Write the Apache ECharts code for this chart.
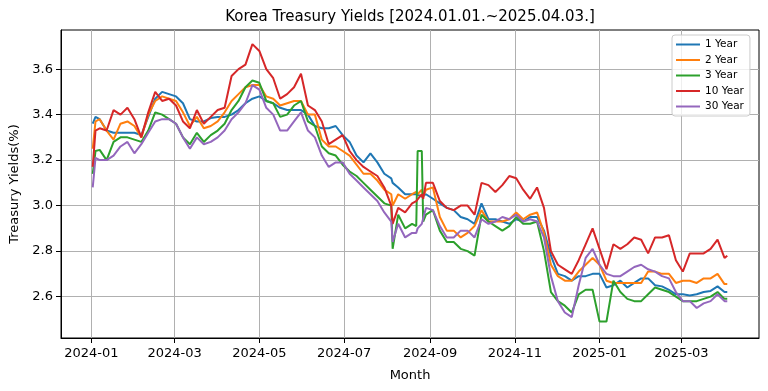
<!DOCTYPE html>
<html><head><meta charset="utf-8">
<script src="https://cdn.jsdelivr.net/npm/echarts@6/dist/echarts.min.js"></script>
<style>html,body{margin:0;padding:0;background:#fff}#c{width:768px;height:391px}</style>
</head><body><div id="c"></div>
<script>
const dates = [
'2024-01-02','2024-01-04','2024-01-07','2024-01-12','2024-01-17','2024-01-22','2024-01-27','2024-02-01','2024-02-06','2024-02-11',
'2024-02-16','2024-02-21','2024-02-26','2024-03-02','2024-03-07','2024-03-12','2024-03-17','2024-03-22','2024-03-27','2024-04-01',
'2024-04-06','2024-04-11','2024-04-16','2024-04-21','2024-04-26','2024-05-01','2024-05-06','2024-05-11','2024-05-16','2024-05-21',
'2024-05-26','2024-05-31','2024-06-05','2024-06-10','2024-06-15','2024-06-20','2024-06-25','2024-06-30','2024-07-05','2024-07-10',
'2024-07-15','2024-07-20','2024-07-25','2024-07-30','2024-08-04','2024-08-05','2024-08-09','2024-08-14','2024-08-19','2024-08-22',
'2024-08-23','2024-08-26','2024-08-27','2024-08-29','2024-09-03','2024-09-08','2024-09-13','2024-09-18','2024-09-23','2024-09-28',
'2024-10-03','2024-10-08','2024-10-13','2024-10-18','2024-10-23','2024-10-28','2024-11-02','2024-11-07','2024-11-12','2024-11-17',
'2024-11-22','2024-11-27','2024-12-02','2024-12-07','2024-12-12','2024-12-17','2024-12-22','2024-12-27','2025-01-01','2025-01-06',
'2025-01-11','2025-01-16','2025-01-21','2025-01-26','2025-01-31','2025-02-05','2025-02-10','2025-02-15','2025-02-20','2025-02-25',
'2025-03-02','2025-03-07','2025-03-12','2025-03-17','2025-03-22','2025-03-27','2025-04-01','2025-04-03'];

const y1 = [
3.36,3.39,3.38,3.33,3.32,3.32,3.32,3.32,3.31,3.39,
3.47,3.50,3.49,3.48,3.45,3.38,3.37,3.37,3.385,3.39,
3.39,3.40,3.42,3.45,3.47,3.48,3.46,3.45,3.43,3.42,
3.42,3.42,3.40,3.35,3.34,3.34,3.35,3.31,3.28,3.22,
3.19,3.23,3.19,3.14,3.12,3.10,3.08,3.05,3.05,3.05,
3.05,3.04,3.04,3.05,3.03,3.01,2.99,2.98,2.95,2.94,
2.92,3.01,2.94,2.94,2.93,2.92,2.94,2.93,2.95,2.95,
2.89,2.78,2.70,2.69,2.67,2.69,2.69,2.70,2.70,2.64,
2.65,2.67,2.64,2.66,2.68,2.68,2.65,2.645,2.63,2.61,
2.61,2.605,2.61,2.62,2.625,2.645,2.62,2.62];

const y2 = [
3.25,3.37,3.38,3.33,3.29,3.36,3.37,3.35,3.30,3.40,
3.46,3.48,3.47,3.46,3.41,3.35,3.39,3.34,3.35,3.37,
3.41,3.46,3.49,3.52,3.53,3.53,3.48,3.47,3.44,3.45,
3.46,3.46,3.40,3.40,3.29,3.26,3.26,3.24,3.22,3.18,
3.14,3.14,3.11,3.07,3.05,3.00,3.05,3.03,3.05,3.06,
3.05,3.07,3.04,3.07,3.08,2.95,2.89,2.89,2.86,2.88,
2.91,2.98,2.93,2.93,2.93,2.94,2.97,2.94,2.96,2.97,
2.88,2.74,2.69,2.67,2.67,2.71,2.74,2.77,2.74,2.67,
2.66,2.66,2.66,2.66,2.66,2.71,2.71,2.70,2.70,2.66,
2.67,2.67,2.66,2.68,2.68,2.70,2.655,2.655];

const y3 = [
3.14,3.24,3.245,3.20,3.28,3.30,3.30,3.29,3.28,3.33,
3.41,3.40,3.38,3.36,3.30,3.27,3.32,3.28,3.31,3.33,
3.36,3.42,3.46,3.52,3.55,3.54,3.46,3.45,3.39,3.40,
3.44,3.46,3.37,3.35,3.26,3.23,3.22,3.18,3.15,3.13,
3.10,3.07,3.04,3.01,3.00,2.81,2.96,2.90,2.92,2.91,
3.24,3.24,2.93,2.96,2.98,2.89,2.84,2.84,2.81,2.80,
2.78,2.96,2.93,2.91,2.89,2.91,2.95,2.92,2.92,2.93,
2.80,2.62,2.58,2.56,2.53,2.61,2.63,2.63,2.49,2.49,
2.67,2.62,2.59,2.58,2.58,2.61,2.64,2.63,2.62,2.60,
2.58,2.58,2.58,2.59,2.60,2.62,2.59,2.59];

const y10 = [
3.17,3.33,3.34,3.33,3.42,3.40,3.43,3.38,3.30,3.41,
3.50,3.46,3.47,3.44,3.37,3.34,3.42,3.36,3.39,3.42,
3.43,3.57,3.60,3.62,3.71,3.68,3.60,3.56,3.47,3.49,
3.52,3.58,3.44,3.42,3.37,3.27,3.29,3.31,3.24,3.20,
3.17,3.15,3.13,3.08,3.00,2.92,2.99,2.97,3.01,3.02,
3.02,3.05,3.03,3.10,3.10,3.02,2.99,2.98,3.00,3.00,
2.96,3.10,3.09,3.06,3.09,3.13,3.12,3.07,3.03,3.08,
2.99,2.80,2.74,2.72,2.70,2.76,2.83,2.90,2.81,2.72,
2.83,2.81,2.83,2.86,2.85,2.79,2.86,2.86,2.87,2.76,
2.71,2.79,2.79,2.79,2.81,2.85,2.77,2.78];

const y30 = [
3.08,3.21,3.20,3.20,3.22,3.26,3.28,3.23,3.27,3.32,
3.37,3.38,3.38,3.36,3.30,3.25,3.30,3.27,3.28,3.30,
3.33,3.38,3.41,3.45,3.53,3.51,3.43,3.40,3.33,3.33,
3.37,3.41,3.33,3.30,3.22,3.17,3.19,3.19,3.14,3.11,
3.08,3.05,3.02,2.97,2.93,2.84,2.92,2.86,2.88,2.88,
2.90,2.92,2.92,2.99,2.98,2.91,2.86,2.86,2.89,2.89,
2.86,2.94,2.92,2.93,2.95,2.94,2.96,2.93,2.94,2.93,
2.86,2.69,2.58,2.53,2.51,2.65,2.77,2.81,2.74,2.70,
2.69,2.69,2.71,2.73,2.74,2.72,2.71,2.69,2.68,2.62,
2.58,2.58,2.55,2.57,2.58,2.61,2.58,2.58];

const seriesNames = ['1 Year','2 Year','3 Year','10 Year','30 Year'];
const seriesColors = ['#1f77b4','#ff7f0e','#2ca02c','#d62728','#9467bd'];
const xTickDates = ['2024-01-01','2024-03-01','2024-05-01','2024-07-01','2024-09-01','2024-11-01','2025-01-01','2025-03-01'];
const xTickLabels = ['2024-01','2024-03','2024-05','2024-07','2024-09','2024-11','2025-01','2025-03'];
const yTicks = [2.6, 2.8, 3.0, 3.2, 3.4, 3.6];
const yRange = [2.418, 3.772];

const toTs = s => { const p = s.split('-').map(Number); return Date.UTC(p[0], p[1]-1, p[2]); };
const ts = dates.map(toTs);
const span = ts[ts.length-1] - ts[0];
const xMin = ts[0] - 0.05*span, xMax = ts[ts.length-1] + 0.05*span;
const xTicks = xTickDates.map(toTs);
const allY = [y1,y2,y3,y10,y30];

const font = 'DejaVu Sans';
const chart = echarts.init(document.getElementById('c'), null, {renderer:'canvas'});
chart.setOption({
  animation:false,
  backgroundColor:'#ffffff',
  textStyle:{fontFamily:font},
  title:{text:'Korea Treasury Yields [2024.01.01.~2025.04.03.]', left:410, top:10, textAlign:'center', padding:0,
    textStyle:{fontSize:15, fontWeight:'normal', color:'#000', fontFamily:font}},
  grid:{left:61, right:9, top:30, bottom:53, show:true, borderColor:'#000', borderWidth:1, backgroundColor:'transparent'},
  legend:{orient:'vertical', left:672, top:35, padding:[3.5,6,3.5,4], itemWidth:24, itemHeight:2, icon:'rect', itemGap:3.5,
    textStyle:{fontSize:10.5, fontFamily:font, color:'#000', lineHeight:12},
    borderColor:'#cccccc', borderWidth:1, borderRadius:3, backgroundColor:'rgba(255,255,255,0.8)',
    data:seriesNames},
  xAxis:{type:'value', min:xMin, max:xMax, scale:true,
    axisLine:{show:true, onZero:false, lineStyle:{color:'#000', width:1}},
    axisTick:{show:true, inside:false, length:5, lineStyle:{color:'#000', width:1}, customValues:xTicks},
    axisLabel:{customValues:xTicks, color:'#000', fontSize:13, margin:9, fontFamily:font, hideOverlap:false,
      formatter:(v)=>{ const i = xTicks.indexOf(+v); return i>=0 ? xTickLabels[i] : ''; }},
    splitLine:{show:true, lineStyle:{color:'#b0b0b0', width:1}},
    name:'Month', nameLocation:'middle', nameGap:31, nameTextStyle:{fontSize:13, color:'#000', fontFamily:font}},
  yAxis:{type:'value', min:yRange[0], max:yRange[1], scale:true,
    axisLine:{show:true, onZero:false, lineStyle:{color:'#000', width:1}},
    axisTick:{show:true, inside:false, length:5, lineStyle:{color:'#000', width:1}, customValues:yTicks},
    axisLabel:{customValues:yTicks, color:'#000', fontSize:13, margin:8, fontFamily:font,
      formatter:(v)=>(+v).toFixed(1)},
    splitLine:{show:true, lineStyle:{color:'#b0b0b0', width:1}},
    name:'Treasury Yields(%)', nameLocation:'middle', nameGap:36, nameTextStyle:{fontSize:13, color:'#000', fontFamily:font}},
  series: seriesNames.map((n,si)=>({
    name:n, type:'line', symbol:'none', showSymbol:false, smooth:false,
    color:seriesColors[si],
    lineStyle:{width:2, color:seriesColors[si]},
    emphasis:{disabled:true},
    data: ts.map((t,i)=>[t, allY[si][i]])
  }))
});
</script></body></html>
